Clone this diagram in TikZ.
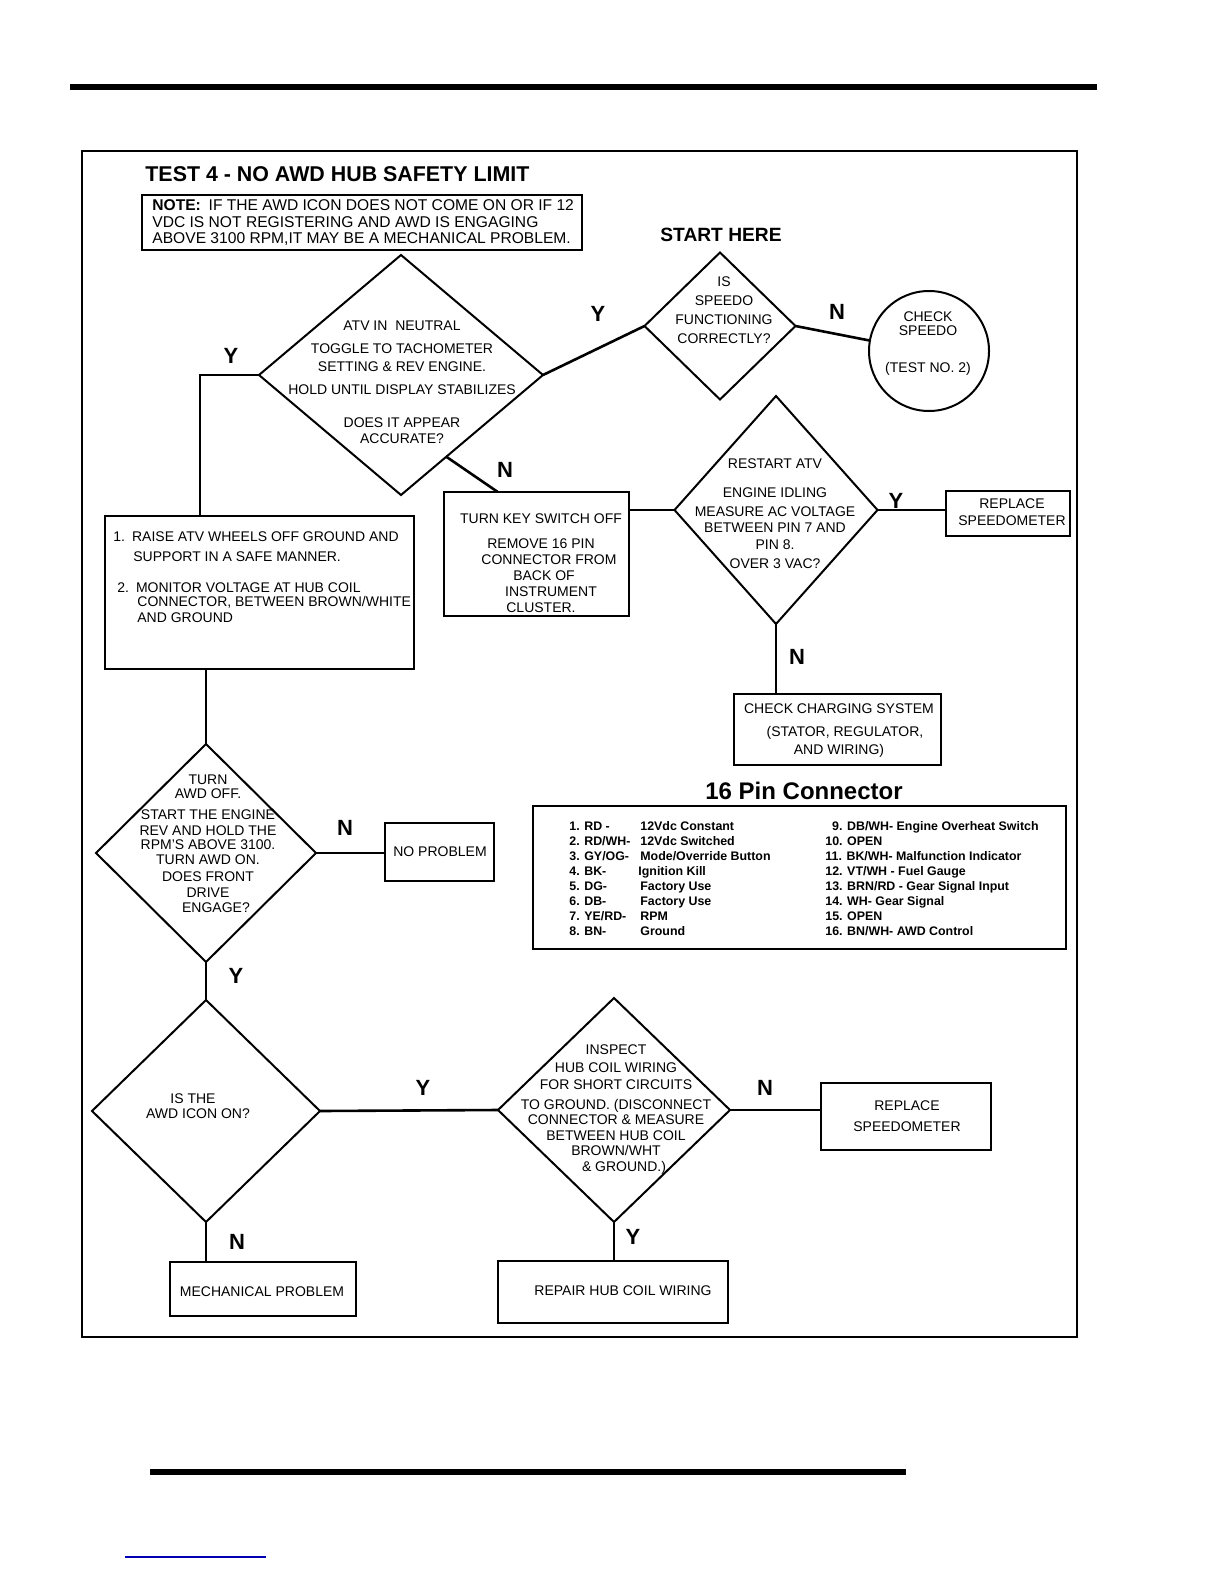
\documentclass[tikz,border=0pt]{standalone}
\usepackage{fontspec}
\setmainfont{Liberation Sans}
\usetikzlibrary{shapes.geometric,fit}

\tikzset{
	box/.style={draw, line width=1pt, inner sep=0pt, outer sep=0pt},
	dia/.style={draw, diamond, line width=1pt, inner sep=0pt, outer sep=0pt},
	txt/.style={font=\fontsize{7}{8}\selectfont, align=center, inner sep=0pt},
	yn/.style={font=\fontsize{11}{11}\selectfont\bfseries, inner sep=0pt},
	pin/.style={font=\fontsize{6.2}{7.5}\selectfont\bfseries, align=left, inner sep=0pt, anchor=north west},
	link/.style={line width=1.3pt},
}

\begin{document}
\begin{tikzpicture}[x=0.5pt, y=-0.5pt]
		\useasboundingbox (0,0) rectangle (1224,1584);
		\fill (70,84) rectangle (1097,90);
		\fill (150,1469) rectangle (906,1475);
		\draw[line width=0.6pt, blue!70!black] (125,1557) -- (266,1557);
		\draw[line width=1.3pt] (82,151) rectangle (1077,1337);

		\node[anchor=base west, inner sep=0pt, font=\fontsize{10.7}{12}\selectfont\bfseries] (title) at (145,181) {TEST 4 - NO AWD HUB SAFETY LIMIT};
		\node[box, fit={(142,195) (582,250)}] (note) {};
		\node[anchor=north west, align=left, inner sep=0pt, font=\fontsize{7.8}{8.3}\selectfont] (notetxt) at (152,199.5) {\textbf{NOTE:}\enspace IF THE AWD ICON DOES NOT COME ON OR IF 12\\VDC IS NOT REGISTERING AND AWD IS ENGAGING\\ABOVE 3100 RPM,IT MAY BE A MECHANICAL PROBLEM.};
		\node[anchor=base, inner sep=0pt, font=\fontsize{9.6}{11}\selectfont\bfseries] (start) at (721,241) {START HERE};

		\node[dia, minimum width=142pt, minimum height=120pt] (atv) at (401,375) {};
		\node[txt, anchor=north] (atvtxt) at (402,320) {ATV IN\ \ NEUTRAL\\[3.5pt]TOGGLE TO TACHOMETER\\[1pt]SETTING \& REV ENGINE.\\[3.5pt]HOLD UNTIL DISPLAY STABILIZES\\[8.5pt]DOES IT APPEAR\\ACCURATE?};

		\node[dia, minimum width=75.5pt, minimum height=73.5pt] (speedo) at (720,326) {};
		\node[txt, anchor=north, font=\fontsize{7}{9.5}\selectfont] (speedotxt) at (724,276) {IS\\SPEEDO\\FUNCTIONING\\CORRECTLY?};

		\node[draw, circle, line width=1pt, inner sep=0pt, outer sep=0pt, minimum size=60pt] (chk) at (929,351) {};
		\node[txt, anchor=north] (chktxt) at (928,311) {CHECK\\[-1pt]SPEEDO\\[10.5pt](TEST NO. 2)};

		\node[box, fit={(105,516) (414,669)}] (raise) {};
		\node[txt, align=left, anchor=north west] (raisetxt) at (113,531) {1.\enspace RAISE ATV WHEELS OFF GROUND AND\\[2pt]\hspace*{10pt}SUPPORT IN A SAFE MANNER.\\[7.5pt]\hspace*{2pt}2.\enspace MONITOR VOLTAGE AT HUB COIL\\[-1pt]\hspace*{12pt}CONNECTOR, BETWEEN BROWN/WHITE\\\hspace*{12pt}AND GROUND};

		\node[box, fit={(444,492) (629,616)}] (turnkey) {};
		\node[txt, anchor=north] (turnkeytxt) at (541,513) {TURN KEY SWITCH OFF\\[4.5pt]REMOVE 16 PIN\\\hspace*{8pt}CONNECTOR FROM\\\hspace*{3pt}BACK OF\\\hspace*{10pt}INSTRUMENT\\CLUSTER.};

		\node[dia, minimum width=101.5pt, minimum height=114pt] (restart) at (776,510) {};
		\node[txt, anchor=north] (restarttxt) at (775,458) {RESTART ATV\\[6.5pt]ENGINE IDLING\\[1.5pt]MEASURE AC VOLTAGE\\BETWEEN PIN 7 AND\\[.5pt]PIN 8.\hspace*{9pt}\\[1.5pt]OVER 3 VAC?};

		\node[box, fit={(946,491) (1070,536)}] (rep1) {};
		\node[txt, anchor=north] (rep1txt) at (1012,498) {REPLACE\\[.5pt]SPEEDOMETER};

		\node[box, fit={(734,694) (941,765)}] (charge) {};
		\node[txt, anchor=north] (chargetxt) at (839,703) {CHECK CHARGING SYSTEM\\[3.5pt]\hspace*{6pt}(STATOR, REGULATOR,\\[1pt]AND WIRING)};

		\node[anchor=base, inner sep=0pt, font=\fontsize{12}{14}\selectfont\bfseries] (pinhead) at (804,799.5) {16 Pin Connector};
		\node[box, fit={(533,806) (1066,949)}] (pins) {};
		\node[pin] (pinsleft) at (569,821.5) {\makebox[35.5pt][l]{1. RD -}12Vdc Constant\\\makebox[35.5pt][l]{2. RD/WH-}12Vdc Switched\\\makebox[35.5pt][l]{3. GY/OG-}Mode/Override Button\\\makebox[34.5pt][l]{4. BK-}Ignition Kill\\\makebox[35.5pt][l]{5. DG-}Factory Use\\\makebox[35.5pt][l]{6. DB-}Factory Use\\\makebox[35.5pt][l]{7. YE/RD-}RPM\\\makebox[35.5pt][l]{8. BN-}Ground};
		\node[pin] (pinsright) at (825,821.5) {\hspace*{3.4pt}9. DB/WH- Engine Overheat Switch\\10. OPEN\\11. BK/WH- Malfunction Indicator\\12. VT/WH - Fuel Gauge\\13. BRN/RD - Gear Signal Input\\14. WH- Gear Signal\\15. OPEN\\16. BN/WH- AWD Control};

		\node[dia, minimum width=110pt, minimum height=109pt] (turn) at (206,853) {};
		\node[txt, anchor=north] (turntxt) at (208,774) {TURN\\[-1pt]AWD OFF.\\[2.5pt]START THE ENGINE\\REV AND HOLD THE\\[-1pt]RPM'S ABOVE 3100.\\[-.5pt]TURN AWD ON.\\[.5pt]DOES FRONT\\DRIVE\\[-.5pt]\hspace*{8pt}ENGAGE?};

		\node[box, fit={(385,823) (494,881)}] (noprob) {};
		\node[txt] (noprobtxt) at (440,852) {NO PROBLEM};

		\node[dia, minimum width=114pt, minimum height=111pt] (icon) at (206,1111) {};
		\node[txt, anchor=north] (icontxt) at (198,1093) {IS THE\hspace*{5pt}\\[-.5pt]AWD ICON ON?};

		\node[box, fit={(170,1262) (356,1316)}] (mech) {};
		\node[txt] (mechtxt) at (262,1292) {MECHANICAL PROBLEM};

		\node[dia, minimum width=116pt, minimum height=112pt] (hub) at (614,1110) {};
		\node[txt, anchor=north] (hubtxt) at (616,1044) {INSPECT\\[1pt]HUB COIL WIRING\\[.5pt]FOR SHORT CIRCUITS\\[2pt]TO GROUND. (DISCONNECT\\[-.5pt]CONNECTOR \& MEASURE\\BETWEEN HUB COIL\\[-.5pt]BROWN/WHT\\\hspace*{8pt}\& GROUND.)};

		\node[box, fit={(821,1083) (991,1150)}] (rep2) {};
		\node[txt, anchor=north] (rep2txt) at (907,1100) {REPLACE\\[2.5pt]SPEEDOMETER};

		\node[box, fit={(498,1261) (728,1323)}] (repair) {};
		\node[txt] (repairtxt) at (623,1291) {REPAIR HUB COIL WIRING};

		\coordinate (yjog) at (200,375);
		\draw[link] (atv.west) -- (yjog) -- (yjog |- raise.north);
		\draw[link] (atv.east) -- (speedo.west);
		\draw[link] (speedo.east) -- (chk.170);
		\draw[link] (atv.-61) -- (turnkey.122);
		\draw[link] (turnkey.east |- restart.west) -- (restart.west);
		\draw[link] (restart.east) -- (restart.east -| rep1.west);
		\draw[link] (restart.south) -- (restart.south |- charge.north);
		\draw[link] (turn.north |- raise.south) -- (turn.north);
		\draw[link] (turn.east) -- (turn.east -| noprob.west);
		\draw[link] (turn.south) -- (icon.north);
		\draw[link] (icon.east) -- (hub.west);
		\draw[link] (icon.south) -- (icon.south |- mech.north);
		\draw[link] (hub.east) -- (hub.east -| rep2.west);
		\draw[link] (hub.south) -- (hub.south |- repair.north);

		\node[yn] (y1) at (598,314) {Y};
		\node[yn] (n1) at (837,312) {N};
		\node[yn] (y2) at (231,356) {Y};
		\node[yn] (n2) at (505,470) {N};
		\node[yn] (y3) at (896,501) {Y};
		\node[yn] (n3) at (797,657) {N};
		\node[yn] (n4) at (345,828) {N};
		\node[yn] (y4) at (236,976) {Y};
		\node[yn] (y5) at (423,1088) {Y};
		\node[yn] (n5) at (237,1242) {N};
		\node[yn] (n6) at (765,1088) {N};
		\node[yn] (y6) at (633,1237) {Y};
	\end{tikzpicture}
\end{document}
